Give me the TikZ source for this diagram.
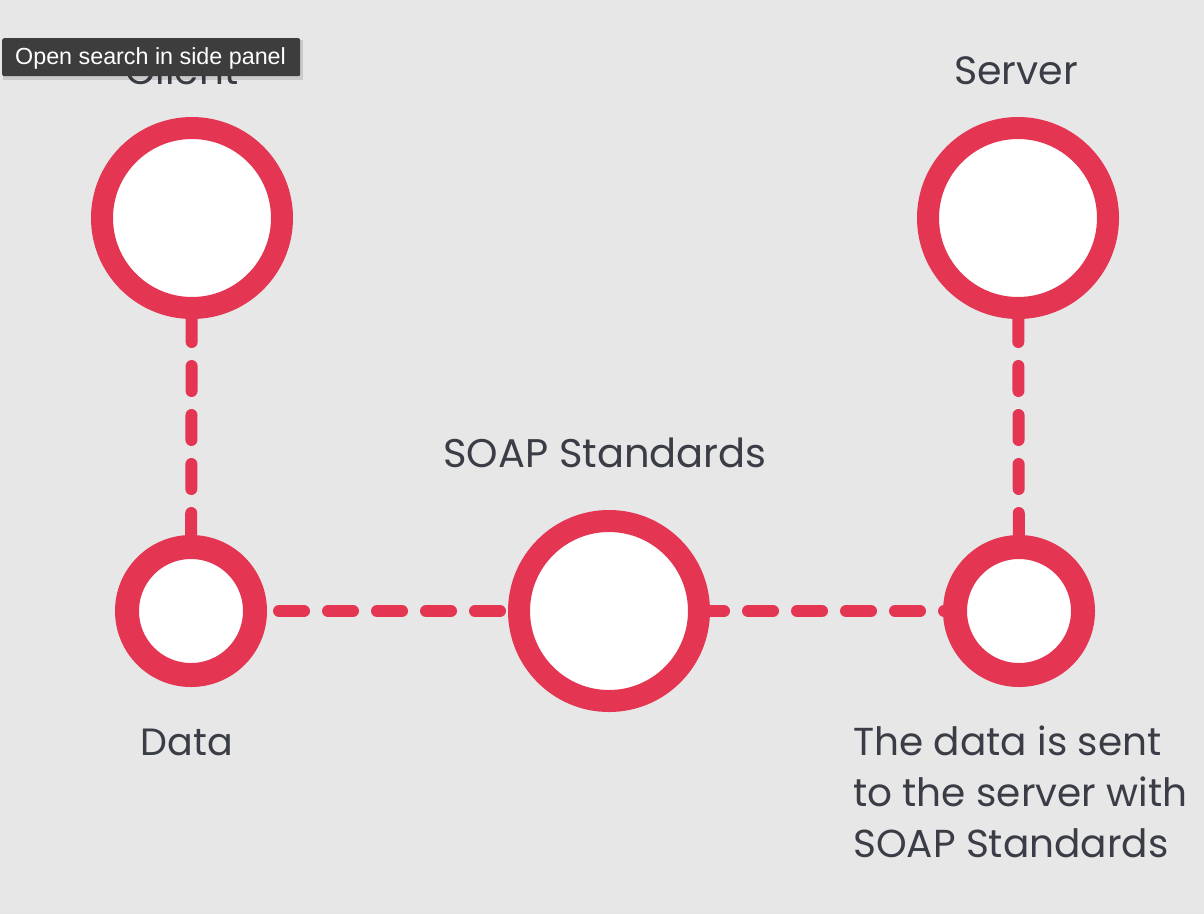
\documentclass[tikz,border=0pt]{standalone}
\usepackage{fontspec}
\setmainfont{Poppins}
\newfontfamily\tipfont{Liberation Sans}
\pgfdeclarelayer{bg}
\pgfdeclarelayer{edges}
\pgfsetlayers{bg,edges,main}
\definecolor{bgc}{HTML}{E7E7E7}
\definecolor{ringred}{HTML}{E43652}
\definecolor{txt}{HTML}{3A3D46}
\definecolor{tipbg}{HTML}{3D3D3D}
\tikzset{
  bignode/.style={circle, draw=ringred, fill=white, line width=22pt, minimum size=180pt, inner sep=0pt, outer sep=0pt},
  smallnode/.style={circle, draw=ringred, fill=white, line width=24pt, minimum size=128pt, inner sep=0pt, outer sep=0pt},
  link/.style={draw=ringred, line width=12pt, line cap=round, dash pattern=on 25pt off 24pt},
  label/.style={text=txt, anchor=base, inner sep=0pt},
}
\begin{document}
\begin{tikzpicture}[x=1pt,y=-1pt]
\begin{pgfonlayer}{bg}
\fill[bgc] (0,0) rectangle (1204,914);
\end{pgfonlayer}
\useasboundingbox (0,0) rectangle (1204,914);

\node[bignode] (client) at (192,218) {};
\node[bignode] (server) at (1018,218) {};
\node[smallnode] (data) at (191,611) {};
\node[bignode] (soap) at (609,611) {};
\node[smallnode] (sent) at (1019,611) {};

\begin{pgfonlayer}{edges}
\draw[link, dash phase=40pt] (client) -- (data);
\draw[link, dash phase=40pt] (server) -- (sent);
\draw[link, dash phase=25pt] (data) -- (soap);
\draw[link, dash phase=0pt] (soap) -- (sent);
\end{pgfonlayer}

\node[label, font=\fontsize{39}{47}\selectfont] (clientlbl) at (182,84) {Client};
\node[label, font=\fontsize{39.5}{47}\selectfont] (serverlbl) at (1016,84) {Server};
\node[label, font=\fontsize{40}{48}\selectfont] (soaplbl) at (605,467) {SOAP Standards};
\node[label, font=\fontsize{38}{46}\selectfont] (datalbl) at (187,755) {Data};
\node[text=txt, anchor=north west, inner sep=0pt, align=left,
      font=\fontsize{39}{51}\selectfont] (desc) at (853,726)
      {The data is sent\\to the server with\\SOAP Standards};

\fill[black, opacity=0.12] (3,40) rectangle (303,80);
\node[fill=tipbg, rounded corners=2pt, minimum width=298pt, minimum height=38pt, inner sep=0pt, anchor=north west] (tip) at (2,38) {};
\node[text=white, anchor=base west, inner sep=0pt, font=\tipfont\fontsize{23.3}{27}\selectfont] (tiptext) at (15,64) {Open search in side panel};
\end{tikzpicture}
\end{document}
